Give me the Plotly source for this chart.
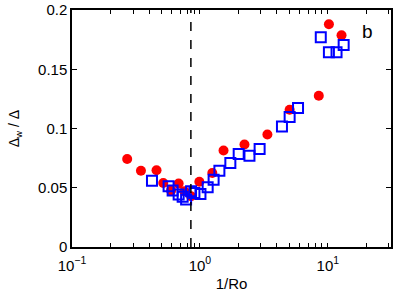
import plotly.graph_objects as go

# Red filled circles
red_x = [0.27, 0.346, 0.458, 0.517, 0.595, 0.682, 0.756, 0.853, 0.99, 1.25, 1.53,
         2.23, 3.37, 5.03, 8.5, 10.2, 12.8]
red_y = [0.0743, 0.0644, 0.0647, 0.054, 0.0476, 0.0535, 0.047, 0.0428, 0.055, 0.0625,
         0.0815, 0.0865, 0.095, 0.1158, 0.1276, 0.188, 0.1787]

# Blue open squares
blue_x = [0.422, 0.569, 0.612, 0.682, 0.733, 0.78, 0.853, 0.906, 1.01, 1.15, 1.28, 1.42,
          1.73, 2.01, 2.44, 2.93, 4.38, 5.03, 5.85, 8.81, 10.2, 11.7, 13.3]
blue_y = [0.056, 0.0512, 0.0476, 0.0442, 0.0423, 0.040, 0.047, 0.0456, 0.0448, 0.0504,
          0.0568, 0.0644, 0.0709, 0.0785, 0.077, 0.0827, 0.1017, 0.1096, 0.1172, 0.177,
          0.1644, 0.1644, 0.1705]

dash_x = 0.85

y_ticks = [0, 0.05, 0.1, 0.15, 0.2]
y_ticktext = ["0", "0.05", "0.1", "0.15", "0.2"]

x_tickvals = []
x_ticktext = []
for dec in [0.1, 1, 10]:
    for m in range(1, 10):
        v = m * dec
        x_tickvals.append(v)
        if m == 1:
            e = {0.1: "\u22121", 1: "0", 10: "1"}[dec]
            x_ticktext.append("10<sup>" + e + "</sup>")
        else:
            x_ticktext.append("")
x_tickvals += [20, 30]
x_ticktext += ["", ""]

fig = go.Figure()
fig.add_trace(go.Scatter(x=red_x, y=red_y, mode="markers",
                         marker=dict(symbol="circle", size=10, color="#ff0000",
                                     line=dict(width=0)), showlegend=False))
fig.add_trace(go.Scatter(x=blue_x, y=blue_y, mode="markers",
                         marker=dict(symbol="square-open", size=10, color="#0000ff",
                                     line=dict(width=2)), showlegend=False))

fig.add_shape(type="line", x0=dash_x, x1=dash_x, y0=0, y1=1, xref="x", yref="paper",
              line=dict(color="black", width=1.5, dash="dash"))

fig.add_annotation(text="b", x=0.925, y=0.91, xref="paper", yref="paper",
                   xanchor="center", yanchor="middle",
                   showarrow=False, font=dict(size=19, color="black"))

axis_font = dict(family="Liberation Sans, Arial, sans-serif", size=15, color="black")

fig.update_layout(
    width=399, height=299,
    margin=dict(l=72, r=8, t=10, b=52),
    plot_bgcolor="white", paper_bgcolor="white",
    font=axis_font,
    xaxis=dict(type="log", range=[-1, 1.494], tickvals=x_tickvals, ticktext=x_ticktext,
               ticks="inside", ticklen=4, tickwidth=1, tickcolor="black",
               showline=True, linecolor="black", linewidth=1.5, mirror="ticks",
               showgrid=False, zeroline=False, tickfont=dict(size=15), automargin=False,
               ticklabeloverflow="allow", ticklabelstandoff=4,
               title=dict(text="1/Ro", font=dict(size=15), standoff=6)),
    yaxis=dict(range=[0, 0.2], tickvals=y_ticks, ticktext=y_ticktext,
               ticks="inside", ticklen=5, tickwidth=1, tickcolor="black",
               showline=True, linecolor="black", linewidth=1.5, mirror="ticks",
               showgrid=False, zeroline=False, tickfont=dict(size=15), automargin=False,
               ticklabeloverflow="allow",
               title=dict(text="\u0394<sub>w</sub> / \u0394", font=dict(size=14), standoff=15)),
)

fig.write_html("out.html", config={"displayModeBar": False},
               post_script="document.body.style.margin='0';document.body.style.padding='0';")
